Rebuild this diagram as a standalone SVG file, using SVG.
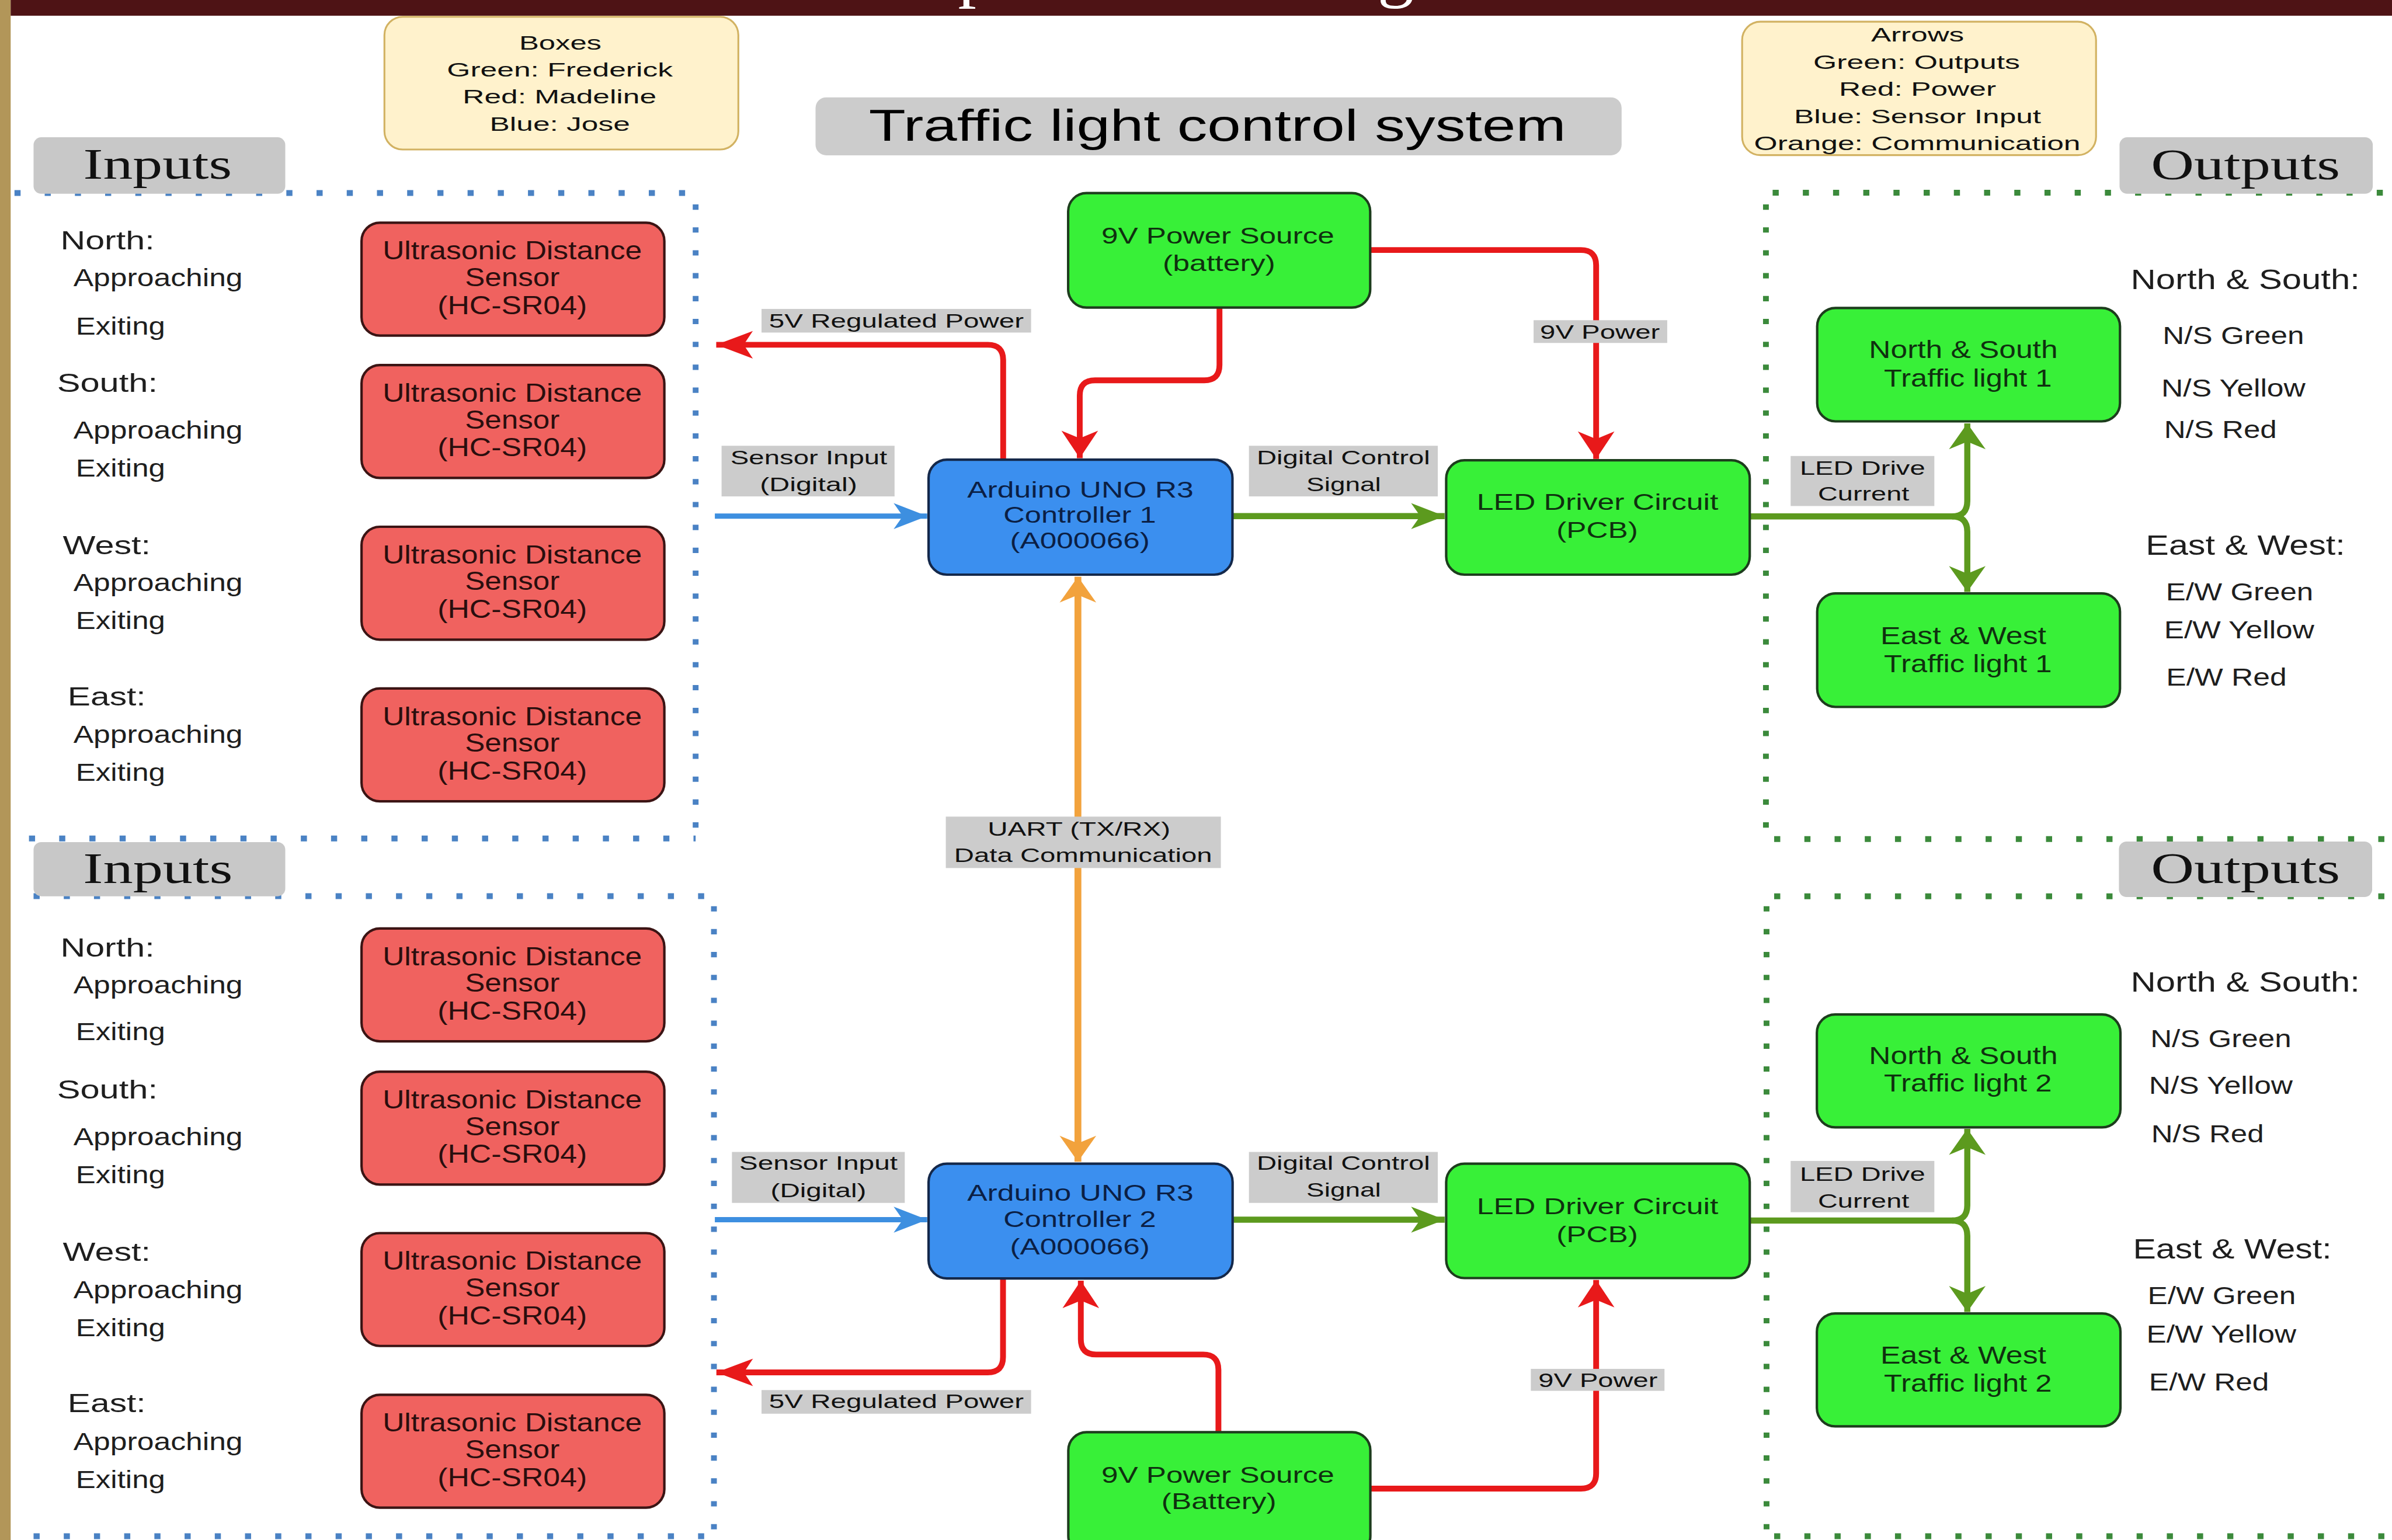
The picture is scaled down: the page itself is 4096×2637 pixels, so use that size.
<svg xmlns="http://www.w3.org/2000/svg" width="4096" height="2637" viewBox="0 0 4096 2637">
<style>
text{font-family:"Liberation Sans",Arial,sans-serif;}
.serif{font-family:"Liberation Serif","Times New Roman",serif;}
.legend{fill:#FFF2CC;stroke:#D2B262;stroke-width:1.2;}
.grp{fill:#C8C8C8;}
.lbl{fill:#CCCCCC;}
.title{fill:#CCCCCC;}
.bred{fill:#F0625F;stroke:#3b1414;stroke-width:1.6;}
.bgreen{fill:#38F038;stroke:#1d3d1d;stroke-width:1.6;}
.bblue{fill:#3B8FEF;stroke:#14284a;stroke-width:1.6;}
.t-leg{fill:#111;font-size:12.8px;text-anchor:middle;}
.t-title{fill:#000;font-size:29px;text-anchor:middle;}
.t-grp{fill:#111;font-size:28.4px;text-anchor:middle;}
.t-red{fill:#2a0e0e;font-size:17px;text-anchor:middle;}
.t-green{fill:#0f300f;font-size:15px;text-anchor:middle;}
.t-tl{fill:#0f300f;font-size:16px;text-anchor:middle;}
.t-blue{fill:#0b1f45;font-size:15px;text-anchor:middle;}
.t-lbl{fill:#111;font-size:12.8px;text-anchor:middle;}
.t-dir{fill:#1e1e1e;font-size:17px;}
.t-sub{fill:#1e1e1e;font-size:16.6px;}
.t-out{fill:#1e1e1e;font-size:18.5px;}
.t-os{fill:#1e1e1e;font-size:16.5px;}
.dotb{fill:none;stroke:#4A82C4;stroke-width:3.8;}
.dotg{fill:none;stroke:#3B8A3B;stroke-width:3.8;}
.h{stroke-dasharray:4 15.8;}
.v{stroke-dasharray:3.5 11.5;}
.cr{fill:none;stroke:#E8191A;stroke-width:3.8;}
.cb{fill:none;stroke:#3D8FE0;stroke-width:3.5;}
.cg{fill:none;stroke:#5C9A1E;stroke-width:4;}
.co{fill:none;stroke:#F2A23C;stroke-width:4.5;}
</style>
<defs>
<marker id="rv" markerUnits="userSpaceOnUse" orient="auto" refX="18" refY="0" markerWidth="20" markerHeight="26" viewBox="0 -13 20 26" overflow="visible"><path d="M0,-12 L18,0 L0,12 L5,0Z" fill="#E8191A"/></marker>
<marker id="rh" markerUnits="userSpaceOnUse" orient="auto" refX="24" refY="0" markerWidth="26" markerHeight="20" viewBox="0 -10 26 20" overflow="visible"><path d="M0,-9 L24,0 L0,9 L6,0Z" fill="#E8191A"/></marker>
<marker id="bh" markerUnits="userSpaceOnUse" orient="auto" refX="22" refY="0" markerWidth="24" markerHeight="20" viewBox="0 -10 24 20" overflow="visible"><path d="M0,-8.5 L22,0 L0,8.5 L6,0Z" fill="#3D8FE0"/></marker>
<marker id="gh" markerUnits="userSpaceOnUse" orient="auto" refX="22" refY="0" markerWidth="24" markerHeight="20" viewBox="0 -10 24 20" overflow="visible"><path d="M0,-8.5 L22,0 L0,8.5 L6,0Z" fill="#5C9A1E"/></marker>
<marker id="gv" markerUnits="userSpaceOnUse" orient="auto" refX="17" refY="0" markerWidth="20" markerHeight="26" viewBox="0 -13 20 26" overflow="visible"><path d="M0,-12 L17,0 L0,12 L5,0Z" fill="#5C9A1E"/></marker>
<marker id="ov" markerUnits="userSpaceOnUse" orient="auto-start-reverse" refX="17" refY="0" markerWidth="20" markerHeight="26" viewBox="0 -13 20 26" overflow="visible"><path d="M0,-12 L17,0 L0,12 L5,0Z" fill="#F2A23C"/></marker>
</defs>
<rect width="4096" height="2637" fill="#ffffff"/>
<g transform="scale(2.61224)">
<g id="frame">
<rect x="0" y="0" width="7" height="1010" fill="#B29659"/>
<rect x="7" y="0" width="1561" height="10.3" fill="#4E1315"/>
<text class="serif" x="628" y="-4.5" font-size="48" fill="#ffffff">p</text>
<text class="serif" x="903" y="-4.5" font-size="48" fill="#ffffff">g</text>
</g>

<g id="regions">
<path class="dotb h" d="M9.5,126.5 H456"/>
<path class="dotb v" d="M456,134 V546"/>
<path class="dotb h" d="M19,549.6 H456"/>
<path class="dotb h" d="M22,587.4 H466"/>
<path class="dotb v" d="M468,594 V1005"/>
<path class="dotb h" d="M22,1007 H468"/>
<path class="dotg h" d="M1162,126.3 H1568"/>
<path class="dotg v" d="M1157.6,134 V546"/>
<path class="dotg h" d="M1163,550 H1568"/>
<path class="dotg h" d="M1163,587.5 H1568"/>
<path class="dotg v" d="M1158,594 V1004"/>
<path class="dotg h" d="M1163,1007 H1568"/>
</g>

<g id="label-inputs-1"><rect class="grp" x="22" y="90" width="165" height="37" rx="5"/><text class="serif t-grp" x="103.3" y="117" textLength="97.5" lengthAdjust="spacingAndGlyphs">Inputs</text></g>
<g id="label-outputs-1"><rect class="grp" x="1389.4" y="90" width="166" height="37" rx="5"/><text class="serif t-grp" x="1472" y="117.6" textLength="124" lengthAdjust="spacingAndGlyphs">Outputs</text></g>
<g id="label-inputs-2"><rect class="grp" x="22" y="552" width="165" height="35.5" rx="5"/><text class="serif t-grp" x="103.5" y="579" textLength="98" lengthAdjust="spacingAndGlyphs">Inputs</text></g>
<g id="label-outputs-2"><rect class="grp" x="1389" y="551.6" width="166" height="36.4" rx="5"/><text class="serif t-grp" x="1472" y="579" textLength="124" lengthAdjust="spacingAndGlyphs">Outputs</text></g>

<g id="title"><rect class="title" x="534.6" y="63.8" width="528.4" height="38" rx="7"/><text class="t-title" x="798" y="92.2" textLength="457" lengthAdjust="spacingAndGlyphs">Traffic light control system</text></g>

<g id="legend-boxes"><rect class="legend" x="252" y="11" width="232" height="87" rx="12"/>
<text class="t-leg" x="367.3" y="32.5" textLength="54" lengthAdjust="spacingAndGlyphs">Boxes</text>
<text class="t-leg" x="367" y="50.2" textLength="148" lengthAdjust="spacingAndGlyphs">Green: Frederick</text>
<text class="t-leg" x="366.8" y="67.9" textLength="127" lengthAdjust="spacingAndGlyphs">Red: Madeline</text>
<text class="t-leg" x="367" y="85.6" textLength="92" lengthAdjust="spacingAndGlyphs">Blue: Jose</text></g>

<g id="legend-arrows"><rect class="legend" x="1142" y="14.2" width="232" height="87.5" rx="12"/>
<text class="t-leg" x="1257" y="27.2" textLength="61" lengthAdjust="spacingAndGlyphs">Arrows</text>
<text class="t-leg" x="1256.4" y="45" textLength="135.5" lengthAdjust="spacingAndGlyphs">Green: Outputs</text>
<text class="t-leg" x="1257" y="62.8" textLength="103" lengthAdjust="spacingAndGlyphs">Red: Power</text>
<text class="t-leg" x="1257" y="80.6" textLength="162" lengthAdjust="spacingAndGlyphs">Blue: Sensor Input</text>
<text class="t-leg" x="1256.8" y="98.4" textLength="214" lengthAdjust="spacingAndGlyphs">Orange: Communication</text></g>

<g id="dir-labels-1">
<text class="t-dir" x="39.6" y="163.6" textLength="61.7" lengthAdjust="spacingAndGlyphs">North:</text>
<text class="t-sub" x="48.1" y="187.6" textLength="111" lengthAdjust="spacingAndGlyphs">Approaching</text>
<text class="t-sub" x="49.7" y="219.3" textLength="58.6" lengthAdjust="spacingAndGlyphs">Exiting</text>
<text class="t-dir" x="37.4" y="256.9" textLength="66" lengthAdjust="spacingAndGlyphs">South:</text>
<text class="t-sub" x="48.1" y="287.4" textLength="111" lengthAdjust="spacingAndGlyphs">Approaching</text>
<text class="t-sub" x="49.7" y="312.5" textLength="58.6" lengthAdjust="spacingAndGlyphs">Exiting</text>
<text class="t-dir" x="41.2" y="363.4" textLength="57.6" lengthAdjust="spacingAndGlyphs">West:</text>
<text class="t-sub" x="48.1" y="387.4" textLength="111" lengthAdjust="spacingAndGlyphs">Approaching</text>
<text class="t-sub" x="49.7" y="412.3" textLength="58.6" lengthAdjust="spacingAndGlyphs">Exiting</text>
<text class="t-dir" x="44.3" y="462.6" textLength="51.3" lengthAdjust="spacingAndGlyphs">East:</text>
<text class="t-sub" x="48.1" y="487" textLength="111" lengthAdjust="spacingAndGlyphs">Approaching</text>
<text class="t-sub" x="49.7" y="511.7" textLength="58.6" lengthAdjust="spacingAndGlyphs">Exiting</text>
</g>
<g id="dir-labels-2">
<text class="t-dir" x="39.6" y="626.9" textLength="61.7" lengthAdjust="spacingAndGlyphs">North:</text>
<text class="t-sub" x="48.1" y="651.3" textLength="111" lengthAdjust="spacingAndGlyphs">Approaching</text>
<text class="t-sub" x="49.7" y="681.8" textLength="58.6" lengthAdjust="spacingAndGlyphs">Exiting</text>
<text class="t-dir" x="37.4" y="720.2" textLength="66" lengthAdjust="spacingAndGlyphs">South:</text>
<text class="t-sub" x="48.1" y="750.7" textLength="111" lengthAdjust="spacingAndGlyphs">Approaching</text>
<text class="t-sub" x="49.7" y="775.7" textLength="58.6" lengthAdjust="spacingAndGlyphs">Exiting</text>
<text class="t-dir" x="41.2" y="826.6" textLength="57.6" lengthAdjust="spacingAndGlyphs">West:</text>
<text class="t-sub" x="48.1" y="851" textLength="111" lengthAdjust="spacingAndGlyphs">Approaching</text>
<text class="t-sub" x="49.7" y="875.7" textLength="58.6" lengthAdjust="spacingAndGlyphs">Exiting</text>
<text class="t-dir" x="44.3" y="925.7" textLength="51.3" lengthAdjust="spacingAndGlyphs">East:</text>
<text class="t-sub" x="48.1" y="950.4" textLength="111" lengthAdjust="spacingAndGlyphs">Approaching</text>
<text class="t-sub" x="49.7" y="975.3" textLength="58.6" lengthAdjust="spacingAndGlyphs">Exiting</text>
</g>

<g id="out-labels-1">
<text class="t-out" x="1396.7" y="189.5" textLength="150.2" lengthAdjust="spacingAndGlyphs">North &amp; South:</text>
<text class="t-os" x="1417.7" y="225.4" textLength="92.7" lengthAdjust="spacingAndGlyphs">N/S Green</text>
<text class="t-os" x="1416.8" y="259.8" textLength="94.5" lengthAdjust="spacingAndGlyphs">N/S Yellow</text>
<text class="t-os" x="1418.6" y="287.1" textLength="73.9" lengthAdjust="spacingAndGlyphs">N/S Red</text>
<text class="t-out" x="1406.6" y="363.5" textLength="130.7" lengthAdjust="spacingAndGlyphs">East &amp; West:</text>
<text class="t-os" x="1419.8" y="393.5" textLength="96.6" lengthAdjust="spacingAndGlyphs">E/W Green</text>
<text class="t-os" x="1418.6" y="418.5" textLength="98.4" lengthAdjust="spacingAndGlyphs">E/W Yellow</text>
<text class="t-os" x="1420" y="449.6" textLength="79" lengthAdjust="spacingAndGlyphs">E/W Red</text>
</g>
<g id="out-labels-2">
<text class="t-out" x="1396.7" y="650" textLength="150.2" lengthAdjust="spacingAndGlyphs">North &amp; South:</text>
<text class="t-os" x="1409.6" y="686.3" textLength="92.4" lengthAdjust="spacingAndGlyphs">N/S Green</text>
<text class="t-os" x="1408.7" y="717.2" textLength="94.2" lengthAdjust="spacingAndGlyphs">N/S Yellow</text>
<text class="t-os" x="1410.2" y="748.8" textLength="73.8" lengthAdjust="spacingAndGlyphs">N/S Red</text>
<text class="t-out" x="1398.2" y="825" textLength="130.2" lengthAdjust="spacingAndGlyphs">East &amp; West:</text>
<text class="t-os" x="1407.8" y="855" textLength="97.2" lengthAdjust="spacingAndGlyphs">E/W Green</text>
<text class="t-os" x="1407" y="880" textLength="98.3" lengthAdjust="spacingAndGlyphs">E/W Yellow</text>
<text class="t-os" x="1408.7" y="911.3" textLength="78.7" lengthAdjust="spacingAndGlyphs">E/W Red</text>
</g>

<g id="connectors">
<path class="cr" d="M799.4,201.7 V239.3 Q799.4,249.3 789.4,249.3 H717.8 Q707.8,249.3 707.8,259.3 V300.3" marker-end="url(#rv)"/>
<path class="cr" d="M898.3,163.9 H1036.3 Q1046.3,163.9 1046.3,173.9 V300.8" marker-end="url(#rv)"/>
<path class="cr" d="M657.6,301.3 V236 Q657.6,226 647.6,226 H469.5" marker-end="url(#rh)"/>
<path class="cr" d="M657.5,838 V889.6 Q657.5,899.6 647.5,899.6 H469.6" marker-end="url(#rh)"/>
<path class="cr" d="M798.7,938.8 V897.9 Q798.7,887.9 788.7,887.9 H718.5 Q708.5,887.9 708.5,877.9 V839.5" marker-end="url(#rv)"/>
<path class="cr" d="M898.3,975.8 H1036.3 Q1046.3,975.8 1046.3,965.8 V839" marker-end="url(#rv)"/>
<path class="cb" d="M468.6,338.3 H607.8" marker-end="url(#bh)"/>
<path class="cb" d="M468.6,799.5 H607.8" marker-end="url(#bh)"/>
<path class="cg" d="M808,338.3 H947" marker-end="url(#gh)"/>
<path class="cg" d="M808,799.5 H947" marker-end="url(#gh)"/>
<path class="cg" d="M1147,338.5 H1279.6 Q1289.6,338.5 1289.6,328.5 V277.5" marker-end="url(#gv)"/>
<path class="cg" d="M1279.6,338.5 Q1289.6,338.5 1289.6,348.5 V388" marker-end="url(#gv)"/>
<path class="cg" d="M1147,800.1 H1279.6 Q1289.6,800.1 1289.6,790.1 V740" marker-end="url(#gv)"/>
<path class="cg" d="M1279.6,800.1 Q1289.6,800.1 1289.6,810.1 V860" marker-end="url(#gv)"/>
<path class="co" d="M706.6,378 V761.5" marker-start="url(#ov)" marker-end="url(#ov)"/>

<rect class="lbl" x="499.2" y="202.5" width="176.7" height="15.5"/>
<text class="t-lbl" x="587.6" y="214.8" font-size="13" textLength="167" lengthAdjust="spacingAndGlyphs">5V Regulated Power</text>
<rect class="lbl" x="1005.3" y="209.9" width="87.6" height="14.9"/>
<text class="t-lbl" x="1048.8" y="222" textLength="78.6" lengthAdjust="spacingAndGlyphs">9V Power</text>
<rect class="lbl" x="473" y="292.2" width="113.4" height="33.2"/>
<text class="t-lbl" x="530.2" y="304.4" textLength="102.8" lengthAdjust="spacingAndGlyphs">Sensor Input</text>
<text class="t-lbl" x="530" y="322" textLength="63.8" lengthAdjust="spacingAndGlyphs">(Digital)</text>
<rect class="lbl" x="818.7" y="292.2" width="123.8" height="33.2"/>
<text class="t-lbl" x="880.6" y="304.4" textLength="113.6" lengthAdjust="spacingAndGlyphs">Digital Control</text>
<text class="t-lbl" x="880.8" y="322" textLength="48.8" lengthAdjust="spacingAndGlyphs">Signal</text>
<rect class="lbl" x="1173.8" y="298.9" width="94.2" height="32.8"/>
<text class="t-lbl" x="1220.9" y="311.2" font-size="14" textLength="82.2" lengthAdjust="spacingAndGlyphs">LED Drive</text>
<text class="t-lbl" x="1221.6" y="328.2" font-size="14" textLength="59.8" lengthAdjust="spacingAndGlyphs">Current</text>
<rect class="lbl" x="620" y="535.3" width="180.3" height="33.7"/>
<text class="t-lbl" x="707.3" y="547.7" font-size="13.2" textLength="119.8" lengthAdjust="spacingAndGlyphs">UART (TX/RX)</text>
<text class="t-lbl" x="710" y="564.9" font-size="13.2" textLength="169.1" lengthAdjust="spacingAndGlyphs">Data Communication</text>
<rect class="lbl" x="479.8" y="755.1" width="113.3" height="33.4"/>
<text class="t-lbl" x="536.5" y="766.8" textLength="103.9" lengthAdjust="spacingAndGlyphs">Sensor Input</text>
<text class="t-lbl" x="536.5" y="784.6" textLength="62.7" lengthAdjust="spacingAndGlyphs">(Digital)</text>
<rect class="lbl" x="818.7" y="755.1" width="123.8" height="33.4"/>
<text class="t-lbl" x="880.6" y="766.8" textLength="113.6" lengthAdjust="spacingAndGlyphs">Digital Control</text>
<text class="t-lbl" x="880.8" y="784.2" textLength="48.8" lengthAdjust="spacingAndGlyphs">Signal</text>
<rect class="lbl" x="1173.8" y="761" width="94.2" height="33.6"/>
<text class="t-lbl" x="1220.9" y="774.2" font-size="14" textLength="82.2" lengthAdjust="spacingAndGlyphs">LED Drive</text>
<text class="t-lbl" x="1221.6" y="791.5" font-size="14" textLength="59.8" lengthAdjust="spacingAndGlyphs">Current</text>
<rect class="lbl" x="499.2" y="911.2" width="176.7" height="15.5"/>
<text class="t-lbl" x="587.6" y="923.1" font-size="13" textLength="167" lengthAdjust="spacingAndGlyphs">5V Regulated Power</text>
<rect class="lbl" x="1003.5" y="897.3" width="87.6" height="14.4"/>
<text class="t-lbl" x="1047.5" y="909.3" textLength="78.1" lengthAdjust="spacingAndGlyphs">9V Power</text>
</g>

<g id="sensor-1-north"><rect class="bred" x="237" y="146" width="198.5" height="74" rx="12"/>
<text class="t-red" x="335.8" y="170.1" textLength="170" lengthAdjust="spacingAndGlyphs">Ultrasonic Distance</text>
<text class="t-red" x="335.8" y="187.5" textLength="62" lengthAdjust="spacingAndGlyphs">Sensor</text>
<text class="t-red" x="335.8" y="205.8" textLength="98" lengthAdjust="spacingAndGlyphs">(HC-SR04)</text></g>
<g id="sensor-1-south"><rect class="bred" x="237" y="239.3" width="198.5" height="74" rx="12"/>
<text class="t-red" x="335.8" y="263.4" textLength="170" lengthAdjust="spacingAndGlyphs">Ultrasonic Distance</text>
<text class="t-red" x="335.8" y="280.8" textLength="62" lengthAdjust="spacingAndGlyphs">Sensor</text>
<text class="t-red" x="335.8" y="299.1" textLength="98" lengthAdjust="spacingAndGlyphs">(HC-SR04)</text></g>
<g id="sensor-1-west"><rect class="bred" x="237" y="345.3" width="198.5" height="74" rx="12"/>
<text class="t-red" x="335.8" y="369.4" textLength="170" lengthAdjust="spacingAndGlyphs">Ultrasonic Distance</text>
<text class="t-red" x="335.8" y="386.8" textLength="62" lengthAdjust="spacingAndGlyphs">Sensor</text>
<text class="t-red" x="335.8" y="405.1" textLength="98" lengthAdjust="spacingAndGlyphs">(HC-SR04)</text></g>
<g id="sensor-1-east"><rect class="bred" x="237" y="451.3" width="198.5" height="74" rx="12"/>
<text class="t-red" x="335.8" y="475.4" textLength="170" lengthAdjust="spacingAndGlyphs">Ultrasonic Distance</text>
<text class="t-red" x="335.8" y="492.8" textLength="62" lengthAdjust="spacingAndGlyphs">Sensor</text>
<text class="t-red" x="335.8" y="511.1" textLength="98" lengthAdjust="spacingAndGlyphs">(HC-SR04)</text></g>
<g id="sensor-2-north"><rect class="bred" x="237" y="608.6" width="198.5" height="74" rx="12"/>
<text class="t-red" x="335.8" y="632.7" textLength="170" lengthAdjust="spacingAndGlyphs">Ultrasonic Distance</text>
<text class="t-red" x="335.8" y="650.1" textLength="62" lengthAdjust="spacingAndGlyphs">Sensor</text>
<text class="t-red" x="335.8" y="668.4" textLength="98" lengthAdjust="spacingAndGlyphs">(HC-SR04)</text></g>
<g id="sensor-2-south"><rect class="bred" x="237" y="702.5" width="198.5" height="74" rx="12"/>
<text class="t-red" x="335.8" y="726.6" textLength="170" lengthAdjust="spacingAndGlyphs">Ultrasonic Distance</text>
<text class="t-red" x="335.8" y="744" textLength="62" lengthAdjust="spacingAndGlyphs">Sensor</text>
<text class="t-red" x="335.8" y="762.3" textLength="98" lengthAdjust="spacingAndGlyphs">(HC-SR04)</text></g>
<g id="sensor-2-west"><rect class="bred" x="237" y="808.3" width="198.5" height="74" rx="12"/>
<text class="t-red" x="335.8" y="832.4" textLength="170" lengthAdjust="spacingAndGlyphs">Ultrasonic Distance</text>
<text class="t-red" x="335.8" y="849.8" textLength="62" lengthAdjust="spacingAndGlyphs">Sensor</text>
<text class="t-red" x="335.8" y="868.1" textLength="98" lengthAdjust="spacingAndGlyphs">(HC-SR04)</text></g>
<g id="sensor-2-east"><rect class="bred" x="237" y="914.3" width="198.5" height="74" rx="12"/>
<text class="t-red" x="335.8" y="938.4" textLength="170" lengthAdjust="spacingAndGlyphs">Ultrasonic Distance</text>
<text class="t-red" x="335.8" y="955.8" textLength="62" lengthAdjust="spacingAndGlyphs">Sensor</text>
<text class="t-red" x="335.8" y="974.1" textLength="98" lengthAdjust="spacingAndGlyphs">(HC-SR04)</text></g>

<g id="power-1"><rect class="bgreen" x="700.2" y="126.6" width="198" height="75" rx="12"/>
<text class="t-green" x="798.3" y="159.7" textLength="152.7" lengthAdjust="spacingAndGlyphs">9V Power Source</text>
<text class="t-green" x="799.1" y="177.8" textLength="73.8" lengthAdjust="spacingAndGlyphs">(battery)</text></g>
<g id="power-2"><rect class="bgreen" x="700.3" y="938.8" width="198" height="80" rx="12"/>
<text class="t-green" x="798.3" y="971.8" textLength="152.7" lengthAdjust="spacingAndGlyphs">9V Power Source</text>
<text class="t-green" x="799" y="989.3" textLength="75.3" lengthAdjust="spacingAndGlyphs">(Battery)</text></g>

<g id="arduino-1"><rect class="bblue" x="608.7" y="301.3" width="199.2" height="75.4" rx="12"/>
<text class="t-blue" x="708.2" y="326" textLength="148.4" lengthAdjust="spacingAndGlyphs">Arduino UNO R3</text>
<text class="t-blue" x="707.8" y="342.5" textLength="100" lengthAdjust="spacingAndGlyphs">Controller 1</text>
<text class="t-blue" x="707.9" y="359.5" textLength="91.7" lengthAdjust="spacingAndGlyphs">(A000066)</text></g>
<g id="arduino-2"><rect class="bblue" x="608.7" y="762.8" width="199.3" height="75.2" rx="12"/>
<text class="t-blue" x="708.2" y="787.2" textLength="148.4" lengthAdjust="spacingAndGlyphs">Arduino UNO R3</text>
<text class="t-blue" x="707.8" y="804.4" textLength="100" lengthAdjust="spacingAndGlyphs">Controller 2</text>
<text class="t-blue" x="707.9" y="822.2" textLength="91.7" lengthAdjust="spacingAndGlyphs">(A000066)</text></g>

<g id="led-driver-1"><rect class="bgreen" x="948" y="301.7" width="199" height="75" rx="12"/>
<text class="t-green" x="1047.2" y="334.2" textLength="158.4" lengthAdjust="spacingAndGlyphs">LED Driver Circuit</text>
<text class="t-green" x="1047" y="352.6" textLength="53.4" lengthAdjust="spacingAndGlyphs">(PCB)</text></g>
<g id="led-driver-2"><rect class="bgreen" x="948" y="762.8" width="199" height="75" rx="12"/>
<text class="t-green" x="1047.2" y="795.7" textLength="158.4" lengthAdjust="spacingAndGlyphs">LED Driver Circuit</text>
<text class="t-green" x="1047" y="814.3" textLength="53.4" lengthAdjust="spacingAndGlyphs">(PCB)</text></g>

<g id="ns-light-1"><rect class="bgreen" x="1191.2" y="201.9" width="198.5" height="74.3" rx="12"/>
<text class="t-tl" x="1287" y="234.8" textLength="123.7" lengthAdjust="spacingAndGlyphs">North &amp; South</text>
<text class="t-tl" x="1290" y="253.3" textLength="110" lengthAdjust="spacingAndGlyphs">Traffic light 1</text></g>
<g id="ew-light-1"><rect class="bgreen" x="1191.2" y="389" width="198.5" height="74.4" rx="12"/>
<text class="t-tl" x="1287" y="422.2" textLength="108.7" lengthAdjust="spacingAndGlyphs">East &amp; West</text>
<text class="t-tl" x="1290" y="440.8" textLength="110" lengthAdjust="spacingAndGlyphs">Traffic light 1</text></g>
<g id="ns-light-2"><rect class="bgreen" x="1191" y="665" width="199" height="74" rx="12"/>
<text class="t-tl" x="1287" y="697.3" textLength="123.7" lengthAdjust="spacingAndGlyphs">North &amp; South</text>
<text class="t-tl" x="1290" y="715.6" textLength="110" lengthAdjust="spacingAndGlyphs">Traffic light 2</text></g>
<g id="ew-light-2"><rect class="bgreen" x="1191" y="861" width="199" height="74" rx="12"/>
<text class="t-tl" x="1287" y="894" textLength="108.7" lengthAdjust="spacingAndGlyphs">East &amp; West</text>
<text class="t-tl" x="1290" y="912.2" textLength="110" lengthAdjust="spacingAndGlyphs">Traffic light 2</text></g>
</g>
</svg>
